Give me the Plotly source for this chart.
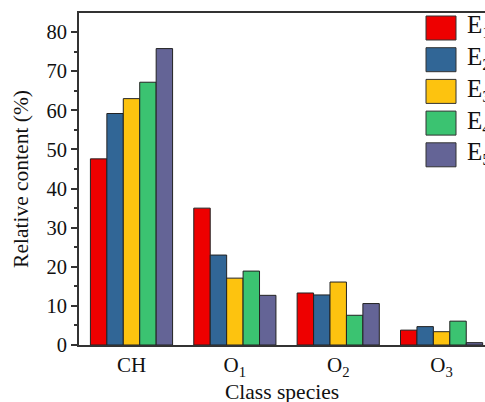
import plotly.graph_objects as go

# Relative content (%) of each class species for samples E1..E5
categories = ["CH", "O<sub>1</sub>", "O<sub>2</sub>", "O<sub>3</sub>"]
series_names = ["E<sub>1</sub>", "E<sub>2</sub>", "E<sub>3</sub>", "E<sub>4</sub>", "E<sub>5</sub>"]
e1 = [47.6, 35.0, 13.3, 3.8]
e2 = [59.2, 23.0, 12.8, 4.7]
e3 = [63.0, 17.1, 16.1, 3.4]
e4 = [67.2, 18.9, 7.6, 6.1]
e5 = [75.8, 12.7, 10.6, 0.6]
series_values = [e1, e2, e3, e4, e5]
colors = ["#EE0000", "#316696", "#FDC30F", "#3BC371", "#646496"]
y_ticks = [0, 10, 20, 30, 40, 50, 60, 70, 80]

W, H = 485, 402
L, R, T, B = 79, 0, 13, 57
plot_w = W - L - R
plot_h = H - T - B

font_family = "Liberation Serif, Times New Roman, serif"

fig = go.Figure()
for name, vals, col in zip(series_names, series_values, colors):
    fig.add_trace(go.Bar(
        x=list(range(len(categories))), y=vals, name=name,
        marker=dict(color=col, line=dict(color="#222222", width=1)),
        showlegend=False,
    ))

# Hand-built legend with large swatches on the right
sw_x0, sw_x1 = 426, 456
sw_top, sw_h, sw_step = 16, 24, 31.7
for i, (name, col) in enumerate(zip(series_names, colors)):
    top = sw_top + i * sw_step
    fig.add_shape(
        type="rect", xref="paper", yref="paper",
        x0=(sw_x0 - L) / plot_w, x1=(sw_x1 - L) / plot_w,
        y0=(H - B - top) / plot_h, y1=(H - B - top - sw_h) / plot_h,
        fillcolor=col, line=dict(color="#333333", width=1),
    )
    fig.add_annotation(
        xref="paper", yref="paper",
        x=(sw_x1 + 9 - L) / plot_w, y=(H - B - top - sw_h / 2 + 1) / plot_h,
        text=name, showarrow=False, xanchor="left", yanchor="middle",
        font=dict(family=font_family, size=25, color="#111111"),
    )

# x-axis title placed below the category labels
fig.add_annotation(
    xref="paper", yref="paper", x=0.5, y=-(392 - (H - B)) / plot_h,
    text="Class species", showarrow=False, xanchor="center", yanchor="middle",
    font=dict(family=font_family, size=21.5, color="#111111"),
)

fig.update_layout(
    width=W, height=H,
    margin=dict(l=L, r=R, t=T, b=B, pad=0, autoexpand=False),
    paper_bgcolor="white", plot_bgcolor="white",
    barmode="group", bargap=0.205, bargroupgap=0,
    font=dict(family=font_family, size=20, color="#111111"),
)
fig.update_xaxes(
    range=[-0.508, 3.42], automargin=False,
    tickmode="array", tickvals=list(range(len(categories))), ticktext=categories,
    ticks="", showgrid=False, zeroline=False,
    showline=True, linecolor="#333333", linewidth=2, mirror=True,
    tickfont=dict(size=21),
)
fig.update_yaxes(
    range=[0, 84.9], automargin=False,
    tickmode="array", tickvals=y_ticks,
    ticks="outside", ticklen=6, tickwidth=1.5, tickcolor="#333333",
    minor=dict(ticks="outside", ticklen=3, tickwidth=1.5, tickcolor="#333333", dtick=5, tick0=0),
    showgrid=False, zeroline=False,
    showline=True, linecolor="#333333", linewidth=2,
    tickfont=dict(size=20.5),
    title=dict(text="Relative content (%)", standoff=12, font=dict(size=21.5)),
)

fig.write_html("out.html")
